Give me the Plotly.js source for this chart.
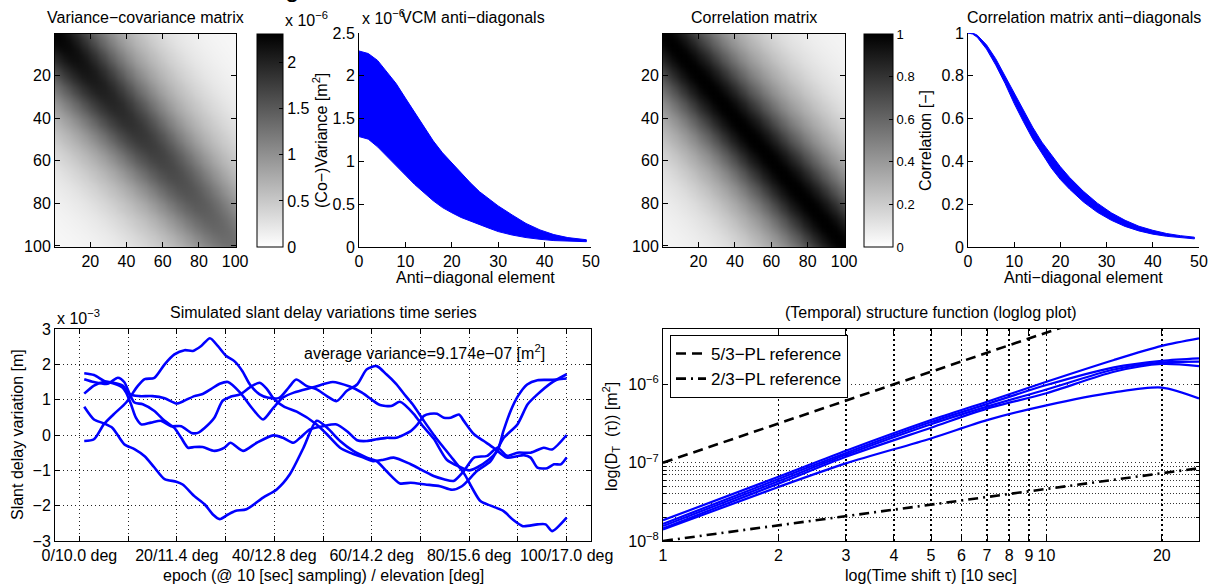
<!DOCTYPE html>
<html><head><meta charset="utf-8">
<script src="https://cdn.plot.ly/plotly-3.0.1.min.js"></script>
<style>html,body{margin:0;padding:0;background:#fff;}#chart{width:1213px;height:587px;}</style>
</head><body><div id="chart"></div>
<script>
// ---------- DATA ----------
// heatmap grid (row/column index positions)
const gridPos = [0.5,3,5.5,8,10.5,13,15.5,18,20.5,23,25.5,28,30.5,33,35.5,38,40.5,43,45.5,48,50.5,53,55.5,58,60.5,63,65.5,68,70.5,73,75.5,78,80.5,83,85.5,88,90.5,93,95.5,98,100.5];
// correlation for index offsets 0,2.5,5,...,100
const corrByLag = [1.0,0.995,0.975,0.94,0.90,0.855,0.80,0.75,0.69,0.64,0.59,0.54,0.495,0.45,0.415,0.378,0.345,0.315,0.29,0.262,0.235,0.214,0.193,0.174,0.155,0.138,0.124,0.112,0.102,0.092,0.083,0.076,0.069,0.064,0.058,0.054,0.05,0.047,0.045,0.042,0.04];
// variances along the diagonal [1e-6 m^2]
const varDiag = [2.29,2.27,2.24,2.22,2.19,2.17,2.14,2.12,2.09,2.07,2.04,2.02,1.99,1.97,1.94,1.92,1.89,1.87,1.84,1.82,1.79,1.77,1.74,1.72,1.69,1.67,1.64,1.62,1.59,1.57,1.54,1.52,1.49,1.47,1.44,1.42,1.39,1.37,1.34,1.32,1.29];

// VCM anti-diagonals band [1e-6 m^2]
const antiX = [0,2,4,6,8,10,12,14,16,18,20,22,24,26,28,30,33,36,39,42,45,49];
const vcmUpper = [2.29,2.26,2.18,2.05,1.91,1.74,1.57,1.40,1.24,1.10,0.98,0.86,0.75,0.645,0.56,0.48,0.375,0.275,0.20,0.145,0.11,0.085];
const vcmLower = [1.29,1.26,1.17,1.06,0.95,0.84,0.73,0.63,0.54,0.46,0.40,0.345,0.30,0.26,0.22,0.18,0.14,0.11,0.09,0.075,0.068,0.062];

// correlation anti-diagonals band
const corrX = [0,1,2,4,6,8,10,12,14,16,18,20,22,25,28,31,34,37,40,43,46,49];
const corrUpper = [1.0,1.0,0.99,0.945,0.88,0.80,0.715,0.635,0.56,0.49,0.43,0.375,0.325,0.26,0.205,0.16,0.125,0.097,0.078,0.063,0.053,0.046];
const corrLower = [1.0,0.995,0.98,0.925,0.85,0.765,0.67,0.585,0.505,0.435,0.37,0.315,0.27,0.21,0.162,0.125,0.096,0.075,0.06,0.05,0.043,0.038];

// slant delay time series [1e-3 m]
const epA = [1,3,5,6.8,9.2,11.3,13.4,15.4,17.5,19.9,21.2,23.6,25.7,27.4,28.8,30.5,32,34.3,37.7,40.5,43.2,46,48.7,50.8,53.5,56.2,59,61,63,65.8,68,71,74,76.5,78.5,81.6,84.4,87.1,89.9,92,94,96.8,100];
const sdA = [0.8,0.44,0.33,0.2,-0.26,-0.4,-0.6,-0.92,-1.25,-1.32,-1.4,-1.73,-1.96,-2.25,-2.38,-2.25,-2.15,-2.1,-1.77,-1.54,-1.11,-0.36,0.4,0.21,-0.17,-0.45,-0.64,-0.74,-1.02,-1.37,-1.35,-1.4,-1.45,-1.55,-1.45,-1.02,-0.74,-0.08,0.3,0.87,1.15,1.47,1.72];
const epB = [1,3,5,7,9.6,12,13.4,15.4,17.5,19.5,21.6,23.3,25,26.8,28.4,30.1,31.8,33.5,35,37,38.6,41,43,44.5,46.6,48.7,50.8,52.8,54.9,57,59,61,63,65,67,68.5,70.7,73.4,76.2,79,80.6,82.3,84.4,87,89,91,94,95.7,97,100];
const sdB = [-0.17,-0.12,0.3,0.58,0.92,1.39,1.58,1.62,2.0,2.28,2.4,2.38,2.52,2.74,2.52,2.24,2.09,1.8,1.43,1.15,1.06,1.05,1.35,1.57,1.39,1.29,1.1,0.96,1.25,1.43,1.86,1.95,1.72,1.45,1.1,0.85,0.4,-0.12,-0.6,-1.1,-1.5,-1.87,-2.0,-2.15,-2.4,-2.58,-2.53,-2.53,-2.72,-2.34];
const epC = [1,3,5,7,8.9,10.3,12.3,15,17.5,20,21.7,23.6,25.3,27,28.8,30.5,33,35.5,37.7,39.8,41.8,44,48,52,55.5,58,60,61.7,64,65.8,68.6,70.5,72.7,75.4,78,80,81.6,84,85.8,87,88.5,90,91.9,94,96.7,100];
const sdC = [1.17,1.4,1.5,1.48,1.4,1.15,1.1,1.1,1.04,0.89,0.98,1.1,1.16,1.3,1.45,1.5,1.2,0.75,0.44,0.77,1.06,1.2,1.35,1.5,1.37,1.2,1.0,0.85,0.82,0.94,0.6,0.25,-0.1,-0.7,-0.9,-1.0,-0.92,-0.7,-0.45,0.1,0.68,1.1,1.43,1.55,1.56,1.6];
const epD = [1,3,5.1,7.2,8.9,9.6,10.6,11.6,12.7,14.7,16.8,18.8,20.9,23,24.3,25.7,27.7,29.4,31,33,35,37,38.5,39.8,42,44.6,48.7,50.8,53.5,55.5,58.3,60.3,62.4,64.5,67.9,70.7,72.7,74.8,76.8,78.9,81,83.7,85.8,87.8,89.9,92.6,95.3,97,100];
const sdD = [1.75,1.7,1.53,1.45,1.34,1.2,0.87,0.49,0.3,0.35,0.4,0.25,0.25,0.06,0.06,0.2,0.49,0.97,1.08,1.15,1.35,1.48,1.3,1.04,0.8,0.66,0.3,0.02,-0.36,-0.5,-0.64,-0.74,-0.7,-0.64,-0.82,-1.02,-1.16,-1.25,-1.3,-1.02,-0.64,-0.59,-0.36,-0.59,-0.5,-0.5,-0.36,-0.41,0.0];
const epE = [1,3,5.8,7.9,9.2,10.3,11.3,13,15.4,17.5,19.5,20.9,22.3,23.6,25.3,27.7,29.8,31,33.6,36.4,39.8,41.8,43.9,45.3,47.3,50,52.8,55,57,59,61,63,65,68,69.4,70.7,72,73.4,74.8,76.2,77.9,78.9,81,83,85,87.7,89.8,91.2,92.6,94,96,97.4,98.8,100];
const sdE = [1.58,1.5,1.45,1.62,1.5,1.17,0.92,0.87,0.68,0.4,0.2,-0.08,-0.36,-0.34,-0.34,-0.45,-0.36,-0.22,-0.45,-0.22,-0.01,-0.08,-0.22,-0.08,0.16,0.25,0.3,0.1,-0.15,-0.17,-0.12,-0.08,-0.08,0.11,0.3,0.54,0.6,0.6,0.49,0.49,0.58,0.4,0.02,-0.17,-0.36,-0.64,-0.6,-0.57,-0.64,-0.92,-0.94,-0.83,-0.83,-0.64];
const tsTickVals = [0,10,20,30,40,50,60,70,80,90,100];
const tsTickText = ['0/10.0 deg','','20/11.4 deg','','40/12.8 deg','','60/14.2 deg','','80/15.6 deg','','100/17.0 deg'];

// temporal structure function [m^2]
const sfLag = [1,2,3,5,7,10,15,20,25];
const sf1 = [1.84e-8,6.6e-8,1.42e-7,3.5e-7,6.0e-7,1.08e-6,2.05e-6,3.1e-6,3.87e-6];
const sf2 = [1.65e-8,6.2e-8,1.33e-7,3.3e-7,5.6e-7,9.8e-7,1.65e-6,2.0e-6,2.15e-6];
const sf3 = [1.55e-8,5.8e-8,1.26e-7,3.1e-7,5.2e-7,8.6e-7,1.55e-6,1.9e-6,1.95e-6];
const sf4 = [1.45e-8,5.4e-8,1.19e-7,2.8e-7,4.9e-7,7.7e-7,1.45e-6,1.82e-6,1.71e-6];
const sf5 = [1.40e-8,4.9e-8,9.8e-8,2.04e-7,3.5e-7,5.4e-7,7.9e-7,9.1e-7,6.6e-7];
const refLag = [1,25];
const ref53 = [1e-7,2.1e-5];
const ref23 = [1e-8,8.5e-8];
const sfTickVals = [1,2,3,4,5,6,7,8,9,10,20];
const sfTickText = ['1','2','3','4','5','6','7','8','9','10','20'];

// ---------- DRAWING ----------
const W=1213,H=587;
const fx=p=>p/W, fy=p=>1-p/H;
const FONT='Liberation Sans, Arial, Helvetica, sans-serif';
const BLUE='#0000ff';
const gray=[[0,'#ffffff'],[1,'#000000']];

const zVcm = gridPos.map((_,i)=>gridPos.map((_,j)=>Math.sqrt(varDiag[i]*varDiag[j])*corrByLag[Math.abs(i-j)]*1e-6));
const zCorr = gridPos.map((_,i)=>gridPos.map((_,j)=>corrByLag[Math.abs(i-j)]));

function band(xs, up, lo, scale, xa, ya){
  return {type:'scatter', mode:'lines', x: xs.concat(xs.slice().reverse()),
    y: up.map(v=>v*scale).concat(lo.slice().reverse().map(v=>v*scale)),
    fill:'toself', fillcolor:BLUE, line:{color:BLUE,width:1}, xaxis:xa, yaxis:ya, showlegend:false, hoverinfo:'skip'};
}
function ts(xs, vs){
  return {type:'scatter', mode:'lines', x:xs, y:vs.map(v=>v*1e-3), line:{color:BLUE,width:2.6,shape:'spline',smoothing:0.7}, xaxis:'x5', yaxis:'y5', showlegend:false};
}
function sf(vs){
  return {type:'scatter', mode:'lines', x:sfLag, y:vs, line:{color:BLUE,width:2.2,shape:'spline',smoothing:0.8}, xaxis:'x6', yaxis:'y6', showlegend:false};
}
const cbBase = {xref:'paper', yref:'paper', xanchor:'left', yanchor:'bottom', lenmode:'fraction', thicknessmode:'pixels', xpad:0, ypad:0, outlinecolor:'#000', outlinewidth:1, ticks:'inside', ticklen:4, tickcolor:'#000'};

const data = [
  {type:'heatmap', x:gridPos, y:gridPos, z:zVcm, zsmooth:'best', colorscale:gray, zmin:0, zmax:2.31e-6, xaxis:'x', yaxis:'y',
   colorbar:Object.assign({}, cbBase, {x:fx(257), y:fy(247), len:213/H, thickness:26, tickvals:[0,0.5e-6,1e-6,1.5e-6,2e-6], ticktext:['0','0.5','1','1.5','2'], tickfont:{size:16,family:FONT,color:'#000'}})},
  band(antiX, vcmUpper, vcmLower, 1e-6, 'x2','y2'),
  {type:'heatmap', x:gridPos, y:gridPos, z:zCorr, zsmooth:'best', colorscale:gray, zmin:0, zmax:1, xaxis:'x3', yaxis:'y3',
   colorbar:Object.assign({}, cbBase, {x:fx(864), y:fy(247), len:213/H, thickness:29, tickvals:[0,0.2,0.4,0.6,0.8,1], ticktext:['0','0.2','0.4','0.6','0.8','1'], tickfont:{size:13,family:FONT,color:'#000'}})},
  band(corrX, corrUpper, corrLower, 1, 'x4','y4'),
  ts(epA,sdA), ts(epB,sdB), ts(epC,sdC), ts(epD,sdD), ts(epE,sdE),
  sf(sf1), sf(sf2), sf(sf3), sf(sf4), sf(sf5),
  {type:'scatter', mode:'lines', name:'5/3\u2212PL reference', x:refLag, y:ref53, line:{color:'#000',width:2.6,dash:'10px,6px'}, xaxis:'x6', yaxis:'y6'},
  {type:'scatter', mode:'lines', name:'2/3\u2212PL reference', x:refLag, y:ref23, line:{color:'#000',width:2.6,dash:'10px,5px,2px,5px'}, xaxis:'x6', yaxis:'y6'}
];

function ax(domain, extra){
  return Object.assign({domain:domain, showline:true, linecolor:'#000', linewidth:1, ticks:'inside', ticklen:5, tickcolor:'#000',
    mirror:'ticks', showgrid:false, zeroline:false, tickangle:0, tickfont:{size:16,family:FONT,color:'#000'}, fixedrange:true}, extra);
}
const dotGrid = {showgrid:true, gridcolor:'#222', gridwidth:1, griddash:'1px,3px'};
const hmTicks = [20,40,60,80,100];

const layout = {
  width:W, height:H, margin:{l:0,r:0,t:0,b:0}, paper_bgcolor:'#fff', plot_bgcolor:'#fff',
  font:{family:FONT, size:16, color:'#000'},
  showlegend:true,
  legend:{x:fx(670), y:fy(335), xanchor:'left', yanchor:'top', bgcolor:'#fff', bordercolor:'#000', borderwidth:1, font:{size:17,family:FONT}, tracegroupgap:0},
  xaxis: ax([fx(55),fx(236)], {anchor:'y', range:[0.5,100.5], tickvals:hmTicks}),
  yaxis: ax([fy(247),fy(34)], {anchor:'x', range:[100.5,0.5], tickvals:hmTicks}),
  xaxis2: ax([fx(359),fx(591)], {anchor:'y2', range:[0,50], tickvals:[0,10,20,30,40,50], mirror:false}),
  yaxis2: ax([fy(247),fy(33)], {anchor:'x2', range:[0,2.5e-6], tickvals:[0,0.5e-6,1e-6,1.5e-6,2e-6,2.5e-6], ticktext:['0','0.5','1','1.5','2','2.5'], mirror:false}),
  xaxis3: ax([fx(663),fx(845)], {anchor:'y3', range:[0.5,100.5], tickvals:hmTicks}),
  yaxis3: ax([fy(247),fy(34)], {anchor:'x3', range:[100.5,0.5], tickvals:hmTicks}),
  xaxis4: ax([fx(968),fx(1199)], {anchor:'y4', range:[0,50], tickvals:[0,10,20,30,40,50], mirror:false}),
  yaxis4: ax([fy(247),fy(33)], {anchor:'x4', range:[0,1], tickvals:[0,0.2,0.4,0.6,0.8,1], ticktext:['0','0.2','0.4','0.6','0.8','1'], mirror:false}),
  xaxis5: ax([fx(55),fx(591)], Object.assign({anchor:'y5', range:[-5,105], tickvals:tsTickVals, ticktext:tsTickText}, dotGrid)),
  yaxis5: ax([fy(541),fy(329)], Object.assign({anchor:'x5', range:[-3e-3,3e-3], tickvals:[-3e-3,-2e-3,-1e-3,0,1e-3,2e-3,3e-3], ticktext:['\u22123','\u22122','\u22121','0','1','2','3']}, dotGrid)),
  xaxis6: ax([fx(663),fx(1199)], {anchor:'y6', type:'log', range:[0,Math.log10(25)], tickvals:sfTickVals, ticktext:sfTickText,
     showgrid:true, gridcolor:'#000', gridwidth:1.6, griddash:'2px,3px'}),
  yaxis6: ax([fy(541),fy(329)], {anchor:'x6', type:'log', range:[-8,-5.293], tickvals:[1e-8,1e-7,1e-6], ticktext:['10<sup>\u22128</sup>','10<sup>\u22127</sup>','10<sup>\u22126</sup>'],
     showgrid:true, gridcolor:'#333', gridwidth:1, griddash:'1px,3px',
     minor:{tickvals:[2e-8,3e-8,4e-8,5e-8,6e-8,7e-8,8e-8,9e-8], showgrid:true, gridcolor:'#333', gridwidth:1, griddash:'1px,2px', ticks:'inside', ticklen:3, tickcolor:'#000'}}),
  annotations: []
};

function ann(text, x, y, opt){
  layout.annotations.push(Object.assign({text:text, x:fx(x), y:fy(y), xref:'paper', yref:'paper', showarrow:false, xanchor:'center', yanchor:'middle', font:{size:16,family:FONT,color:'#000'}}, opt||{}));
}
ann('g', 292, 5, {yanchor:'bottom', font:{size:26,family:FONT,color:'#000'}});
ann('Variance\u2212covariance matrix', 145.5, 17);
ann('VCM anti\u2212diagonals', 473, 17);
ann('Correlation matrix', 754, 17);
ann('Correlation matrix anti\u2212diagonals', 1083.5, 17);
ann('x 10<sup>\u22126</sup>', 283, 19, {xanchor:'left'});
ann('x 10<sup>\u22126</sup>', 360, 17, {xanchor:'left'});
ann('(Co\u2212)Variance [m<sup>2</sup>]', 320, 141, {textangle:-90});
ann('Anti\u2212diagonal element', 475, 277);
ann('Correlation [\u2212]', 926, 141, {textangle:-90});
ann('Anti\u2212diagonal element', 1083.5, 277);
ann('Simulated slant delay variations time series', 323, 312);
ann('(Temporal) structure function (loglog plot)', 931, 312);
ann('x 10<sup>\u22123</sup>', 55, 317, {xanchor:'left'});
ann('average variance=9.174e\u221207 [m<sup>2</sup>]', 302, 352, {xanchor:'left'});
ann('Slant delay variation [m]', 17, 435, {textangle:-90});
ann('epoch (@ 10 [sec] sampling) / elevation [deg]', 323, 575);
ann('log(D<sub>T</sub>  (\u03c4)) [m<sup>2</sup>]', 611, 437, {textangle:-90});
ann('log(Time shift \u03c4) [10 sec]', 931, 575);

Plotly.newPlot('chart', data, layout, {staticPlot:true, displayModeBar:false});
</script>
</body></html>
